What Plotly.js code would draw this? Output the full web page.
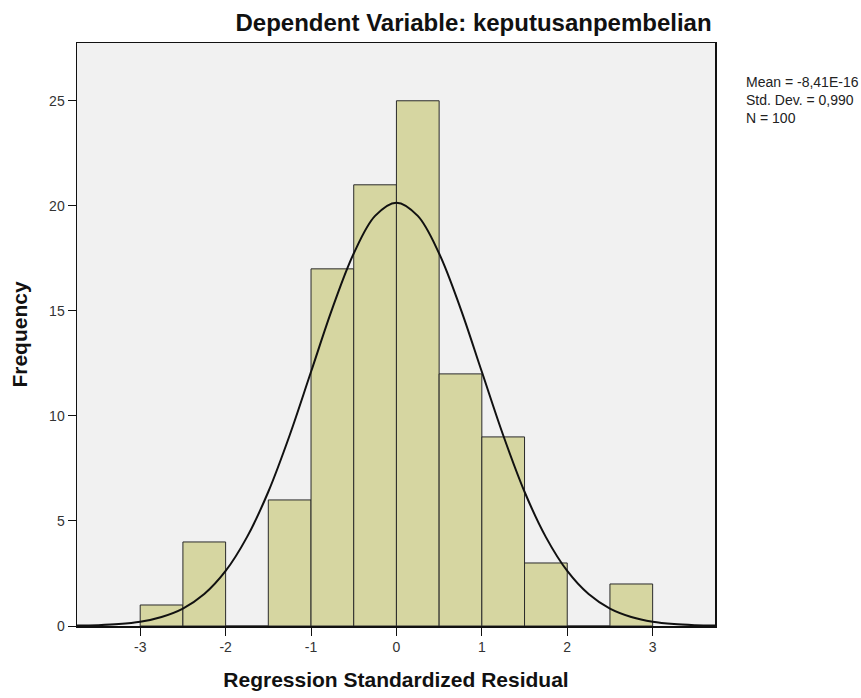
<!DOCTYPE html>
<html>
<head>
<meta charset="utf-8">
<script src="https://cdn.plot.ly/plotly-3.0.1.min.js"></script>
<style>
html,body{margin:0;padding:0;background:#fff;}
#chart{width:861px;height:698px;}
</style>
</head>
<body>
<div id="chart"></div>
<script>
// Histogram bins (centres) and frequencies
var binCenters = [-2.75, -2.25, -1.75, -1.25, -0.75, -0.25, 0.25, 0.75, 1.25, 1.75, 2.25, 2.75];
var frequencies = [1, 4, 0, 6, 17, 21, 25, 12, 9, 3, 0, 2];

// Normal curve
var curveX = [-3.75, -3.5, -3.25, -3.0, -2.75, -2.5, -2.25, -2.0, -1.75, -1.5, -1.25, -1.0, -0.75, -0.5, -0.25, 0,
              0.25, 0.5, 0.75, 1.0, 1.25, 1.5, 1.75, 2.0, 2.25, 2.5, 2.75, 3.0, 3.25, 3.5, 3.75];
var curveY = [0.02, 0.04, 0.09, 0.2, 0.43, 0.83, 1.52, 2.62, 4.23, 6.39, 9.08, 12.1, 15.12, 17.73, 19.52, 20.15,
              19.52, 17.73, 15.12, 12.1, 9.08, 6.39, 4.23, 2.62, 1.52, 0.83, 0.43, 0.2, 0.09, 0.04, 0.02];

var xTicks = [-3, -2, -1, 0, 1, 2, 3];
var yTicks = [0, 5, 10, 15, 20, 25];

var chartTitle = 'Dependent Variable: keputusanpembelian';
var xTitle = 'Regression Standardized Residual';
var yTitle = 'Frequency';
var statsText = 'Mean = -8,41E-16<br>Std. Dev. = 0,990<br>N = 100';

var FONT = '"Liberation Sans", Arial, sans-serif';

var traces = [
  {
    type: 'bar',
    x: binCenters,
    y: frequencies,
    width: 0.5,
    marker: {color: '#d6d6a1', line: {color: '#2a2a2a', width: 1}},
    hoverinfo: 'x+y',
    showlegend: false
  },
  {
    type: 'scatter',
    mode: 'lines',
    x: curveX,
    y: curveY,
    line: {color: '#111111', width: 2, shape: 'spline', smoothing: 1},
    showlegend: false,
    hoverinfo: 'skip'
  }
];

var layout = {
  width: 861,
  height: 698,
  margin: {l: 77, r: 146, t: 43, b: 72},
  paper_bgcolor: '#ffffff',
  plot_bgcolor: '#f1f1f1',
  font: {family: FONT, color: '#222'},
  bargap: 0,
  title: {
    text: '<b>' + chartTitle + '</b>',
    font: {family: FONT, size: 24, color: '#111'},
    xref: 'container', x: 0.55, xanchor: 'center',
    yref: 'container', y: 0.968, yanchor: 'middle'
  },
  xaxis: {
    range: [-3.74, 3.73],
    tickvals: xTicks,
    ticktext: xTicks.map(String),
    ticks: 'outside', ticklen: 8, tickcolor: '#111', tickwidth: 1,
    showline: true, linecolor: '#111', linewidth: 1.5, mirror: true,
    showgrid: false, zeroline: false,
    tickfont: {family: FONT, size: 14, color: '#333'},
    title: {text: '<b>' + xTitle + '</b>', font: {family: FONT, size: 21, color: '#111'}, standoff: 18}
  },
  yaxis: {
    range: [0, 27.75],
    tickvals: yTicks,
    ticktext: yTicks.map(String),
    ticks: 'outside', ticklen: 8, tickcolor: '#111', tickwidth: 1,
    showline: true, linecolor: '#111', linewidth: 1.5, mirror: true,
    showgrid: false, zeroline: false,
    tickfont: {family: FONT, size: 14, color: '#333'},
    title: {text: '<b>' + yTitle + '</b>', font: {family: FONT, size: 21, color: '#111'}, standoff: 16}
  },
  annotations: [
    {
      text: statsText,
      xref: 'paper', yref: 'paper',
      x: 1.045, y: 0.95, xanchor: 'left', yanchor: 'top',
      align: 'left', showarrow: false,
      font: {family: FONT, size: 14, color: '#222'}
    }
  ]
};

Plotly.newPlot('chart', traces, layout, {displayModeBar: false, staticPlot: true});
</script>
</body>
</html>
